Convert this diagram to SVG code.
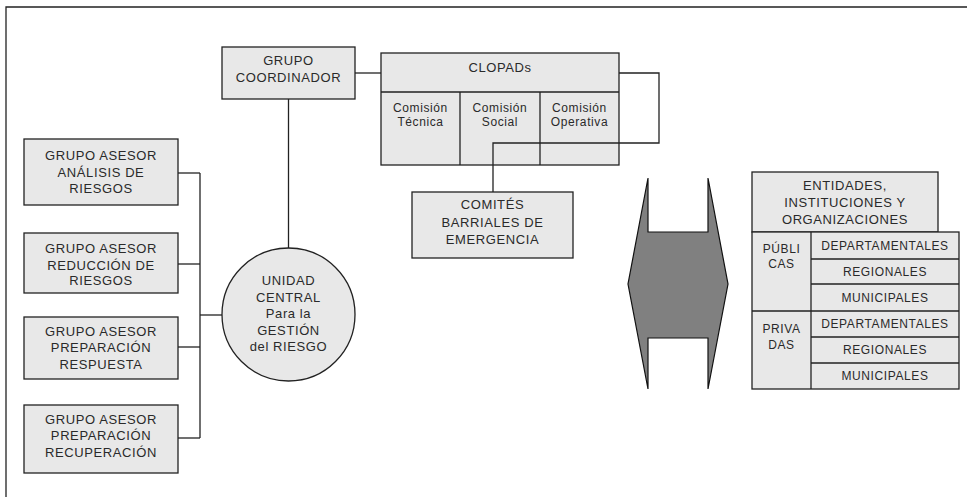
<svg xmlns="http://www.w3.org/2000/svg" width="967" height="497" viewBox="0 0 967 497">
<style>
.box{fill:#e8e8e8;stroke:#222;stroke-width:1.3}
.ln{fill:none;stroke:#222;stroke-width:1.3}
text{font-family:"Liberation Sans",Arial,sans-serif;fill:#2a2a2a;text-anchor:middle;letter-spacing:0.6px}
.t13{font-size:13px}
.t12{font-size:12px}
</style>
<rect x="0" y="0" width="967" height="497" fill="#fff"/>
<polyline class="ln" points="6,497 6,7 967,7"/>

<g id="grupo-coordinador">
<rect class="box" x="222" y="47" width="133" height="52"/>
<text class="t13" x="288.5" y="65">GRUPO</text>
<text class="t13" x="288.5" y="82">COORDINADOR</text>
</g>

<g id="clopads">
<rect class="box" x="381" y="53" width="238" height="112"/>
<line class="ln" x1="381" y1="92" x2="619" y2="92"/>
<line class="ln" x1="460" y1="92" x2="460" y2="165"/>
<line class="ln" x1="540" y1="92" x2="540" y2="165"/>
<text class="t13" x="500" y="72">CLOPADs</text>
<text class="t12" x="420.5" y="112">Comisión</text>
<text class="t12" x="420.5" y="126">Técnica</text>
<text class="t12" x="500" y="112">Comisión</text>
<text class="t12" x="500" y="126">Social</text>
<text class="t12" x="579.5" y="112">Comisión</text>
<text class="t12" x="579.5" y="126">Operativa</text>
</g>

<g id="comites">
<rect class="box" x="412" y="192" width="161" height="66"/>
<text class="t13" x="492.5" y="209">COMITÉS</text>
<text class="t13" x="492.5" y="226.5">BARRIALES DE</text>
<text class="t13" x="492.5" y="244">EMERGENCIA</text>
</g>

<g id="asesor-analisis">
<rect class="box" x="24" y="139" width="154" height="66"/>
<text class="t13" x="101" y="159.5">GRUPO ASESOR</text>
<text class="t13" x="101" y="176.5">ANÁLISIS DE</text>
<text class="t13" x="101" y="192.5">RIESGOS</text>
</g>

<g id="asesor-reduccion">
<rect class="box" x="24" y="233" width="154" height="60"/>
<text class="t13" x="101" y="253">GRUPO ASESOR</text>
<text class="t13" x="101" y="269.5">REDUCCIÓN DE</text>
<text class="t13" x="101" y="285">RIESGOS</text>
</g>

<g id="asesor-respuesta">
<rect class="box" x="24" y="317" width="154" height="62"/>
<text class="t13" x="101" y="336">GRUPO ASESOR</text>
<text class="t13" x="101" y="352">PREPARACIÓN</text>
<text class="t13" x="101" y="368.5">RESPUESTA</text>
</g>

<g id="asesor-recuperacion">
<rect class="box" x="24" y="405" width="154" height="68"/>
<text class="t13" x="101" y="423.5">GRUPO ASESOR</text>
<text class="t13" x="101" y="440">PREPARACIÓN</text>
<text class="t13" x="101" y="457">RECUPERACIÓN</text>
</g>

<g id="unidad-central">
<circle class="box" cx="288.5" cy="314.5" r="66.5"/>
<text class="t13" x="288.5" y="285">UNIDAD</text>
<text class="t13" x="288.5" y="301.5">CENTRAL</text>
<text class="t13" x="288.5" y="318">Para la</text>
<text class="t13" x="288.5" y="334.5">GESTIÓN</text>
<text class="t13" x="288.5" y="351">del RIESGO</text>
</g>

<g id="flecha-doble">
<polygon points="648,178 648,232 708,232 708,178 728,284 708,389 708,338 648,338 648,389 628,284" fill="#808080" stroke="#111" stroke-width="1.2" stroke-linejoin="miter"/>
</g>

<g id="entidades">
<rect class="box" x="752" y="172" width="186" height="60"/>
<text class="t13" x="845" y="190">ENTIDADES,</text>
<text class="t13" x="845" y="207">INSTITUCIONES Y</text>
<text class="t13" x="845" y="223.5">ORGANIZACIONES</text>
<rect class="box" x="752" y="232" width="207" height="157"/>
<line class="ln" x1="811" y1="232" x2="811" y2="389"/>
<line class="ln" x1="752" y1="311" x2="959" y2="311"/>
<line class="ln" x1="811" y1="259" x2="959" y2="259"/>
<line class="ln" x1="811" y1="284" x2="959" y2="284"/>
<line class="ln" x1="811" y1="337" x2="959" y2="337"/>
<line class="ln" x1="811" y1="363" x2="959" y2="363"/>
<text class="t12" x="781.5" y="253">PÚBLI</text>
<text class="t12" x="781.5" y="267.5">CAS</text>
<text class="t12" x="781.5" y="333">PRIVA</text>
<text class="t12" x="781.5" y="349">DAS</text>
<text class="t12" x="885" y="249.5">DEPARTAMENTALES</text>
<text class="t12" x="885" y="275.5">REGIONALES</text>
<text class="t12" x="885" y="301.5">MUNICIPALES</text>
<text class="t12" x="885" y="328">DEPARTAMENTALES</text>
<text class="t12" x="885" y="354">REGIONALES</text>
<text class="t12" x="885" y="380">MUNICIPALES</text>
</g>

<g id="connectors">
<line class="ln" x1="355" y1="73" x2="381" y2="73"/>
<polyline class="ln" points="619,73 659,73 659,143 493,143 493,192"/>
<line class="ln" x1="288.5" y1="99" x2="288.5" y2="248"/>
<line class="ln" x1="178" y1="173" x2="200" y2="173"/>
<line class="ln" x1="178" y1="264" x2="200" y2="264"/>
<line class="ln" x1="178" y1="347" x2="200" y2="347"/>
<line class="ln" x1="178" y1="438" x2="200" y2="438"/>
<line class="ln" x1="200" y1="173" x2="200" y2="438"/>
<line class="ln" x1="200" y1="315" x2="222" y2="315"/>
</g>
</svg>
